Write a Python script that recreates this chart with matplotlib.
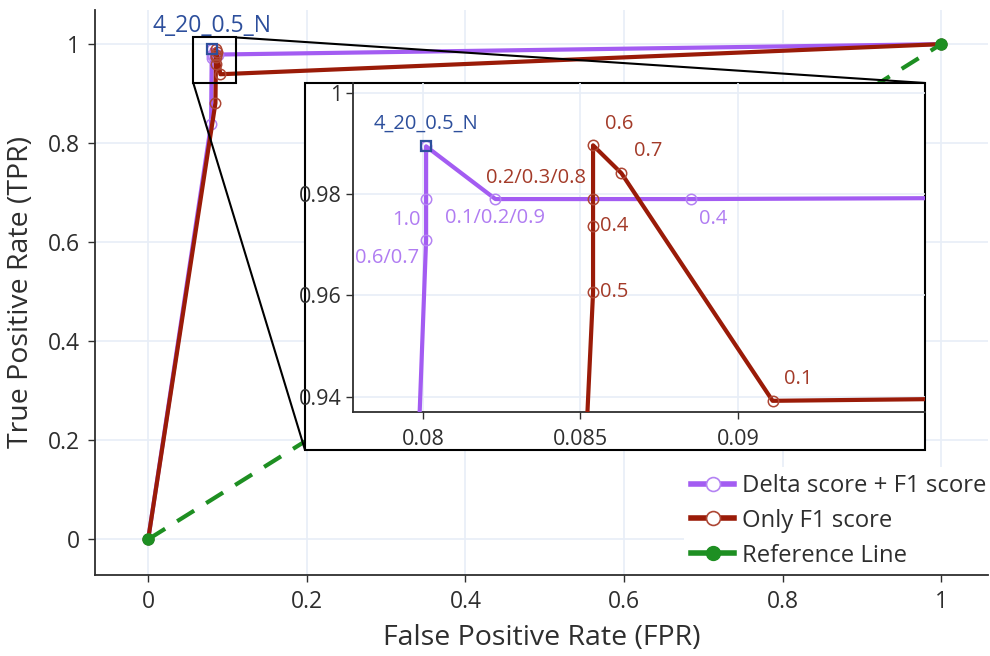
import matplotlib
matplotlib.use("Agg")
import matplotlib.pyplot as plt
from matplotlib.lines import Line2D
from matplotlib.patches import Rectangle, ConnectionPatch
from matplotlib.ticker import FuncFormatter

plt.rcParams['font.family'] = ['Open Sans', 'DejaVu Sans']

# ROC points (FPR, TPR)
delta_fpr = [0.0, 0.0793, 0.0801, 0.0801, 0.0801, 0.0823, 0.0885, 1.0]
delta_tpr = [0.0, 0.838, 0.971, 0.979, 0.9894, 0.979, 0.979, 1.0]
delta_lbl = ['', '', '0.6/0.7', '1.0', '', '0.1/0.2/0.9', '0.4', '']

f1_fpr = [0.0, 0.0848, 0.0854, 0.0854, 0.0854, 0.0854, 0.0863, 0.0911, 1.0]
f1_tpr = [0.0, 0.881, 0.9606, 0.9736, 0.979, 0.9896, 0.9841, 0.9392, 1.0]
f1_lbl = ['', '', '0.5', '0.4', '0.2/0.3/0.8', '0.6', '0.7', '0.1', '']

ref_fpr = [0.0, 1.0]
ref_tpr = [0.0, 1.0]

best_fpr = 0.0801
best_tpr = 0.9894
best_name = '4_20_0.5_N'

# label offsets in pixels (dx, dy)
delta_off = [None, None, (-39, -18), (-20, -21), None, (0, -19), (22, -20), None]
f1_off = [None, None, (21, 0), (21, 0), (-57, 21), (26, 21), (27, 22), (26, 22), None]

PURPLE = '#a35cf2'
PURPLE_M = '#b483f3'
PURPLE_T = '#b07cf2'
BROWN = '#9a1b08'
BROWN_M = '#ad4634'
BROWN_T = '#a33a28'
GREEN = '#1e8f22'
BLUE = '#2d4f9c'
GRID = '#e8eef7'
DARK = '#2e2e2e'

fmt = FuncFormatter(lambda v, p: '%g' % round(v, 4))


def draw_series(a, inset=False):
    a.plot(delta_fpr, delta_tpr, color=PURPLE, lw=3, marker='o', ms=7.5,
           mfc='none', mec=PURPLE_M, mew=1.1, zorder=3)
    a.plot(f1_fpr, f1_tpr, color=BROWN, lw=3, marker='o', ms=7.5,
           mfc='none', mec=BROWN_M, mew=1.1, zorder=4)
    if not inset:
        a.plot(ref_fpr, ref_tpr, color=GREEN, lw=3, ls=(0, (4.8, 3.4)),
               marker='o', ms=8, mfc=GREEN, mec=GREEN, zorder=5)
    a.plot([best_fpr], [best_tpr], marker='s', ms=7.5, mfc='none', mec=BLUE,
           mew=1.6, ls='none', zorder=6)
    a.annotate(best_name, (best_fpr, best_tpr), xytext=(0, 23 * 0.72),
               textcoords='offset points', ha='center', va='center',
               color=BLUE, fontsize=14.5 if inset else 16.5, zorder=7)


def style_axes(a, fs):
    for s in ['top', 'right']:
        a.spines[s].set_visible(False)
    for s in ['left', 'bottom']:
        a.spines[s].set_color(DARK)
        a.spines[s].set_linewidth(1.3)
    a.tick_params(direction='out', length=5, width=1, color=DARK,
                  labelcolor=DARK, labelsize=fs, pad=6)
    a.grid(True, color=GRID, lw=1.2)
    a.set_axisbelow(True)
    a.xaxis.set_major_formatter(fmt)
    a.yaxis.set_major_formatter(fmt)


fig = plt.figure(figsize=(9.9, 6.56), dpi=100)
ax = fig.add_axes([0.096, 0.1235, 0.902, 0.8613])
draw_series(ax)
style_axes(ax, 16.5)
ax.set_xlim(-0.067, 1.059)
ax.set_ylim(-0.072, 1.069)
ax.set_xticks([0, 0.2, 0.4, 0.6, 0.8, 1])
ax.set_yticks([0, 0.2, 0.4, 0.6, 0.8, 1])
ax.set_xlabel('False Positive Rate (FPR)', fontsize=20.5, color=DARK, labelpad=7)
ax.set_ylabel('True Positive Rate (TPR)', fontsize=20.5, color=DARK, labelpad=9)

# zoom rectangle in main axes
zx0, zx1, zy0, zy1 = 0.057, 0.111, 0.921, 1.0135
ax.add_patch(Rectangle((zx0, zy0), zx1 - zx0, zy1 - zy0, fill=False,
                       edgecolor='black', lw=1.5, zorder=8))

handles = [
    Line2D([], [], color=PURPLE, lw=4, marker='o', ms=10, mfc='white', mec=PURPLE_M, mew=1.2),
    Line2D([], [], color=BROWN, lw=4, marker='o', ms=10, mfc='white', mec=BROWN_M, mew=1.2),
    Line2D([], [], color=GREEN, lw=4, marker='o', ms=10, mfc=GREEN, mec=GREEN),
]
leg = ax.legend(handles, ['Delta score + F1 score', 'Only F1 score', 'Reference Line'],
                loc='lower right', bbox_to_anchor=(1.011, -0.008), fontsize=17.2,
                frameon=True, facecolor='white', edgecolor='none', framealpha=1,
                handlelength=1.8, handletextpad=0.3, labelspacing=0.45,
                borderpad=0.3, borderaxespad=0.2)
leg.set_zorder(2)
for t in leg.get_texts():
    t.set_color(DARK)

# inset frame (includes tick labels)
box = (0.3081, 0.3140, 0.6263, 0.5595)
fig.add_artist(Rectangle((box[0], box[1]), box[2], box[3], transform=fig.transFigure,
                         facecolor='white', edgecolor='black', lw=1.5, zorder=2))
fig.add_artist(ConnectionPatch(xyA=(zx1, zy1), coordsA=ax.transData,
                               xyB=(box[0] + box[2], box[1] + box[3]), coordsB=fig.transFigure,
                               color='black', lw=1.5, zorder=2.5))
fig.add_artist(ConnectionPatch(xyA=(zx0, zy0), coordsA=ax.transData,
                               xyB=(box[0], box[1]), coordsB=fig.transFigure,
                               color='black', lw=1.5, zorder=2.5))

axins = fig.add_axes([0.3566, 0.372, 0.5778, 0.5015], zorder=3)
axins.patch.set_alpha(0)
draw_series(axins, inset=True)
style_axes(axins, 15.5)
axins.set_xlim(0.07778, 0.09594)
axins.set_ylim(0.937, 1.0019)
axins.set_xticks([0.08, 0.085, 0.09])
axins.set_yticks([0.94, 0.96, 0.98, 1.0])
axins.tick_params(axis='x', pad=7)
axins.tick_params(axis='y', pad=3)

for x, y, t, o in zip(delta_fpr, delta_tpr, delta_lbl, delta_off):
    if t:
        axins.annotate(t, (x, y), xytext=(o[0] * 0.72, o[1] * 0.72), textcoords='offset points',
                       ha='center', va='center', color=PURPLE_T, fontsize=14.5)
for x, y, t, o in zip(f1_fpr, f1_tpr, f1_lbl, f1_off):
    if t:
        axins.annotate(t, (x, y), xytext=(o[0] * 0.72, o[1] * 0.72), textcoords='offset points',
                       ha='center', va='center', color=BROWN_T, fontsize=14.5)

fig.savefig('out.png', dpi=100)
